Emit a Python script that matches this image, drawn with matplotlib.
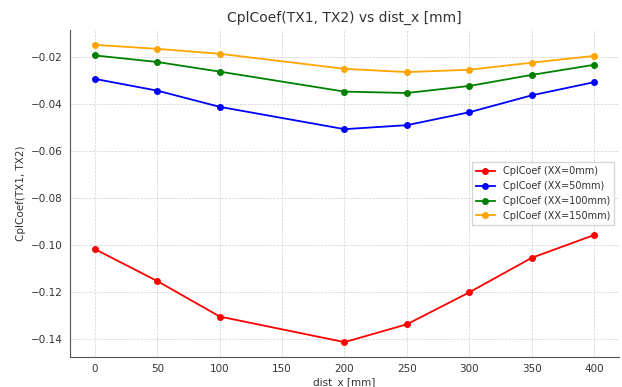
import matplotlib.pyplot as plt
import numpy as np

dist_x = [0, 50, 100, 200, 250, 300, 350, 400]
cpl_0 = [-0.1018, -0.1154, -0.1305, -0.1414, -0.1338, -0.1202, -0.1055, -0.0958]
cpl_50 = [-0.0293, -0.0343, -0.0412, -0.0507, -0.0490, -0.0435, -0.0363, -0.0307]
cpl_100 = [-0.0193, -0.0221, -0.0262, -0.0347, -0.0353, -0.0323, -0.0276, -0.0233]
cpl_150 = [-0.0148, -0.0165, -0.0186, -0.0250, -0.0264, -0.0254, -0.0224, -0.0195]
labels = ['CplCoef (XX=0mm)', 'CplCoef (XX=50mm)', 'CplCoef (XX=100mm)', 'CplCoef (XX=150mm)']
colors = ['red', 'blue', 'green', 'orange']

fig = plt.figure(figsize=(6.22, 3.87), dpi=100)
ax = fig.add_axes([70/622, 1-357/387, (619-70)/622, (357-30)/387])

for ys, lab, c in zip([cpl_0, cpl_50, cpl_100, cpl_150], labels, colors):
    ax.plot(dist_x, ys, '-o', color=c, label=lab, linewidth=1.3, markersize=4)

ax.set_title('CplCoef(TX1, TX2) vs dist_x [mm]', fontsize=10, color='#333333')
ax.set_xlabel('dist_x [mm]', fontsize=7.5, color='#333333', labelpad=2)
ax.set_ylabel('CplCoef(TX1, TX2)', fontsize=7.5, color='#333333')
ax.set_xticks(np.arange(0, 401, 50))
ax.tick_params(labelsize=7.5, colors='#333333', length=0, pad=5)
ax.grid(True, linestyle='--', linewidth=0.5, color='#d0d0d0')
for s in ['top', 'right']:
    ax.spines[s].set_visible(False)
for s in ['left', 'bottom']:
    ax.spines[s].set_color('#555555')
ax.legend(loc='center right', fontsize=7, frameon=True, fancybox=False,
          edgecolor='#cccccc', labelcolor='#333333')

fig.savefig('out.png', dpi=100)
